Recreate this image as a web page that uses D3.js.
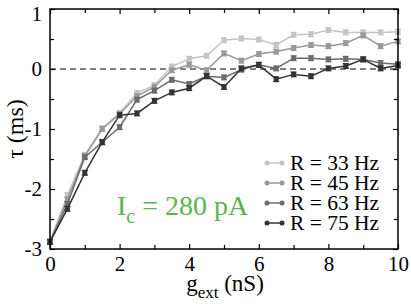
<!DOCTYPE html>
<html lang="en">
<head>
<meta charset="UTF-8">
<title>tau vs g_ext</title>
<script src="https://d3js.org/d3.v7.min.js"></script>
<style>
    body { margin: 0; background: #fff; }
</style>
</head>
<body>
<div id="chart"></div>
<script>
    // g_ext values (nS)
    const gExt = [0, 0.5, 1, 1.5, 2, 2.5, 3, 3.5, 4, 4.5, 5, 5.5, 6, 6.5, 7, 7.5, 8, 8.5, 9, 9.5, 10];

    // tau (ms) for each rate
    const tauR33 = [-2.88, -2.10, -1.43, -0.99, -0.73, -0.40, -0.27, 0.04, 0.17, 0.22, 0.48, 0.51, 0.49, 0.40, 0.57, 0.58, 0.65, 0.61, 0.61, 0.61, 0.62];
    const tauR45 = [-2.88, -2.17, -1.45, -1.00, -0.75, -0.45, -0.30, -0.02, 0.07, -0.02, 0.26, 0.14, 0.25, 0.29, 0.35, 0.40, 0.38, 0.43, 0.56, 0.38, 0.46];
    const tauR63 = [-2.88, -2.25, -1.47, -1.22, -0.97, -0.51, -0.36, -0.18, -0.25, -0.12, -0.14, -0.01, 0.07, 0.01, 0.18, 0.18, 0.16, 0.17, 0.16, 0.10, 0.08];
    const tauR75 = [-2.88, -2.33, -1.73, -1.22, -0.77, -0.74, -0.53, -0.39, -0.32, -0.12, -0.30, 0.01, 0.07, -0.17, -0.09, -0.12, 0.01, 0.05, 0.16, 0.01, 0.06];
    const errHalf = 0.04;

    const seriesNames = ["R = 33 Hz", "R = 45 Hz", "R = 63 Hz", "R = 75 Hz"];
    const seriesColors = ["#c4c4c4", "#999999", "#6b6b6b", "#333333"];
    const seriesData = [tauR33, tauR45, tauR63, tauR75];

    const xTicks = [0, 2, 4, 6, 8, 10];
    const yTicks = [-3, -2, -1, 0, 1];

    const width = 411, height = 304;
    const pLeft = 50, pRight = 398, pTop = 9, pBottom = 249;
    const serif = "'Liberation Serif', 'Times New Roman', Times, 'DejaVu Serif', serif";

    const svg = d3.select("#chart").append("svg")
        .attr("width", width)
        .attr("height", height)
        .attr("font-family", serif);

    const x = d3.scaleLinear().domain([0, 10]).range([pLeft, pRight]);
    const y = d3.scaleLinear().domain([-3, 1]).range([pBottom, pTop]);

    // zero line
    svg.append("line")
        .attr("x1", pLeft).attr("x2", pRight)
        .attr("y1", y(0)).attr("y2", y(0))
        .attr("stroke", "#000")
        .attr("stroke-width", 1.2)
        .attr("stroke-dasharray", "6,4");

    // series, dark on top
    const line = d3.line().x((d, i) => x(gExt[i])).y(d => y(d));
    seriesData.forEach((vals, s) => {
        const g = svg.append("g");
        const col = seriesColors[s];
        g.append("path")
            .datum(vals)
            .attr("d", line)
            .attr("fill", "none")
            .attr("stroke", col)
            .attr("stroke-width", 1.5);
        const pts = g.selectAll(".pt").data(vals).enter().append("g");
        pts.append("line")
            .attr("x1", (d, i) => x(gExt[i])).attr("x2", (d, i) => x(gExt[i]))
            .attr("y1", d => y(d - errHalf)).attr("y2", d => y(d + errHalf))
            .attr("stroke", col).attr("stroke-width", 1.2);
        [-errHalf, errHalf].forEach(e => {
            pts.append("line")
                .attr("x1", (d, i) => x(gExt[i]) - 3).attr("x2", (d, i) => x(gExt[i]) + 3)
                .attr("y1", d => y(d + e)).attr("y2", d => y(d + e))
                .attr("stroke", col).attr("stroke-width", 1.2);
        });
        pts.append("rect")
            .attr("x", (d, i) => x(gExt[i]) - 2.5)
            .attr("y", d => y(d) - 2.5)
            .attr("width", 5).attr("height", 5)
            .attr("fill", col);
    });

    // axes: box with inward ticks on all sides
    const minorX = [1, 3, 5, 7, 9];
    const minorY = [-2.5, -1.5, -0.5, 0.5];
    const gx = svg.append("g").attr("transform", `translate(0,${pBottom})`)
        .call(d3.axisBottom(x).tickValues(xTicks).tickSize(-5).tickPadding(7).tickFormat(d3.format("d")));
    svg.append("g").attr("transform", `translate(0,${pBottom})`)
        .call(d3.axisBottom(x).tickValues(minorX).tickSize(-4).tickFormat(""));
    svg.append("g").attr("transform", `translate(0,${pTop})`)
        .call(d3.axisTop(x).tickValues(xTicks).tickSize(-5).tickFormat(""));
    svg.append("g").attr("transform", `translate(0,${pTop})`)
        .call(d3.axisTop(x).tickValues(minorX).tickSize(-4).tickFormat(""));
    const gy = svg.append("g").attr("transform", `translate(${pLeft},0)`)
        .call(d3.axisLeft(y).tickValues(yTicks).tickSize(-5).tickPadding(8).tickFormat(d => d < 0 ? "-" + Math.abs(d) : d));
    svg.append("g").attr("transform", `translate(${pLeft},0)`)
        .call(d3.axisLeft(y).tickValues(minorY).tickSize(-4).tickFormat(""));
    svg.append("g").attr("transform", `translate(${pRight},0)`)
        .call(d3.axisRight(y).tickValues(yTicks).tickSize(-5).tickFormat(""));
    svg.append("g").attr("transform", `translate(${pRight},0)`)
        .call(d3.axisRight(y).tickValues(minorY).tickSize(-4).tickFormat(""));

    svg.selectAll(".domain").remove();
    svg.selectAll("g").attr("font-family", serif);
    svg.selectAll(".tick line").attr("stroke", "#000").attr("stroke-width", 1.2);
    gx.selectAll("text").attr("font-size", 21).attr("fill", "#000");
    gy.selectAll("text").attr("font-size", 21).attr("fill", "#000")
        .attr("dy", (d, i) => d === 1 ? "0.55em" : "0.32em");

    svg.append("rect")
        .attr("x", pLeft).attr("y", pTop)
        .attr("width", pRight - pLeft).attr("height", pBottom - pTop)
        .attr("fill", "none").attr("stroke", "#000").attr("stroke-width", 1.5);

    // axis labels
    svg.append("text")
        .attr("transform", `translate(23,${(pTop + pBottom) / 2}) rotate(-90)`)
        .attr("text-anchor", "middle")
        .attr("font-size", 24)
        .text("\u03c4 (ms)");

    const xl = svg.append("text")
        .attr("x", 225)
        .attr("y", 291)
        .attr("text-anchor", "middle")
        .attr("font-size", 23);
    xl.append("tspan").text("g");
    xl.append("tspan").attr("dy", 7).attr("font-size", 17).text("ext");
    xl.append("tspan").attr("dy", -7).text(" (nS)");

    // annotation
    const ann = svg.append("text")
        .attr("x", 117).attr("y", 215)
        .attr("fill", "#55b54f")
        .attr("font-size", 28);
    ann.append("tspan").text("I");
    ann.append("tspan").attr("dy", 8).attr("font-size", 20).text("c");
    ann.append("tspan").attr("dy", -8).text(" = 280 pA");

    // legend
    const leg = svg.append("g").selectAll("g").data(seriesNames).enter().append("g")
        .attr("transform", (d, i) => `translate(0,${163 + i * 20})`);
    leg.append("line")
        .attr("x1", 267).attr("x2", 282)
        .attr("stroke", (d, i) => seriesColors[i]).attr("stroke-width", 1.5);
    leg.append("circle").attr("cx", 267).attr("r", 2.5).attr("fill", (d, i) => seriesColors[i]);
    leg.append("circle").attr("cx", 282).attr("r", 2.5).attr("fill", (d, i) => seriesColors[i]);
    leg.append("text")
        .attr("x", 290).attr("y", 7)
        .attr("font-size", 21.5)
        .text(d => d);
</script>
</body>
</html>
